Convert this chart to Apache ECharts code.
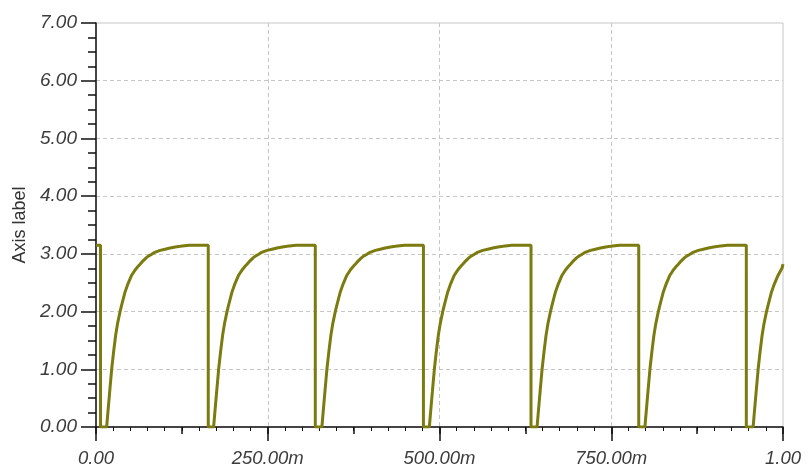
<!DOCTYPE html>
<html>
<head>
<meta charset="utf-8">
<script src="https://cdn.jsdelivr.net/npm/echarts@6/dist/echarts.min.js"></script>
<style>
  html, body { margin: 0; padding: 0; background: #ffffff; }
  #chart { width: 812px; height: 468px; }
</style>
</head>
<body>
<div id="chart"></div>
<script>
// Sampled trace: time in seconds, output level (one charge cycle per line)
const timeS = [
  0.0000, 0.0066, 0.0066,
  0.0155, 0.0170, 0.0185, 0.0200, 0.0228, 0.0257, 0.0286, 0.0315, 0.0350, 0.0375, 0.0423, 0.0465, 0.0519, 0.0575, 0.0610, 0.0641, 0.0670, 0.0695, 0.0730, 0.0762, 0.0805, 0.0845, 0.0885, 0.0933, 0.1005, 0.1078, 0.1155, 0.1224, 0.1355, 0.1634, 0.1634,
  0.1712, 0.1727, 0.1742, 0.1757, 0.1785, 0.1814, 0.1843, 0.1872, 0.1907, 0.1932, 0.1980, 0.2022, 0.2076, 0.2132, 0.2167, 0.2198, 0.2227, 0.2252, 0.2287, 0.2319, 0.2362, 0.2402, 0.2442, 0.2490, 0.2562, 0.2635, 0.2712, 0.2781, 0.2912, 0.3192, 0.3192,
  0.3288, 0.3303, 0.3318, 0.3333, 0.3361, 0.3390, 0.3419, 0.3448, 0.3483, 0.3508, 0.3556, 0.3598, 0.3652, 0.3708, 0.3743, 0.3774, 0.3803, 0.3828, 0.3863, 0.3895, 0.3938, 0.3978, 0.4018, 0.4066, 0.4138, 0.4211, 0.4288, 0.4357, 0.4488, 0.4766, 0.4766,
  0.4852, 0.4867, 0.4882, 0.4897, 0.4925, 0.4954, 0.4983, 0.5012, 0.5047, 0.5072, 0.5120, 0.5162, 0.5216, 0.5272, 0.5307, 0.5338, 0.5367, 0.5392, 0.5427, 0.5459, 0.5502, 0.5542, 0.5582, 0.5630, 0.5702, 0.5775, 0.5852, 0.5921, 0.6052, 0.6332, 0.6332,
  0.6420, 0.6435, 0.6450, 0.6465, 0.6493, 0.6522, 0.6551, 0.6580, 0.6615, 0.6640, 0.6688, 0.6730, 0.6784, 0.6840, 0.6875, 0.6906, 0.6935, 0.6960, 0.6995, 0.7027, 0.7070, 0.7110, 0.7150, 0.7198, 0.7270, 0.7343, 0.7420, 0.7489, 0.7620, 0.7900, 0.7900,
  0.7990, 0.8005, 0.8020, 0.8035, 0.8063, 0.8092, 0.8121, 0.8150, 0.8185, 0.8210, 0.8258, 0.8300, 0.8354, 0.8410, 0.8445, 0.8476, 0.8505, 0.8530, 0.8565, 0.8597, 0.8640, 0.8680, 0.8720, 0.8768, 0.8840, 0.8913, 0.8990, 0.9059, 0.9190, 0.9466, 0.9466,
  0.9565, 0.9580, 0.9595, 0.9610, 0.9638, 0.9667, 0.9696, 0.9725, 0.9760, 0.9785, 0.9833, 0.9875, 0.9929, 0.9985, 1.0000
];
const outputV = [
  3.15, 3.15, 0.00,
  0.00, 0.21, 0.42, 0.62, 1.00, 1.31, 1.59, 1.80, 2.00, 2.12, 2.34, 2.48, 2.63, 2.73, 2.78, 2.82, 2.86, 2.89, 2.93, 2.96, 2.99, 3.02, 3.04, 3.06, 3.08, 3.10, 3.12, 3.13, 3.15, 3.15, 0.00,
  0.00, 0.21, 0.42, 0.62, 1.00, 1.31, 1.59, 1.80, 2.00, 2.12, 2.34, 2.48, 2.63, 2.73, 2.78, 2.82, 2.86, 2.89, 2.93, 2.96, 2.99, 3.02, 3.04, 3.06, 3.08, 3.10, 3.12, 3.13, 3.15, 3.15, 0.00,
  0.00, 0.21, 0.42, 0.62, 1.00, 1.31, 1.59, 1.80, 2.00, 2.12, 2.34, 2.48, 2.63, 2.73, 2.78, 2.82, 2.86, 2.89, 2.93, 2.96, 2.99, 3.02, 3.04, 3.06, 3.08, 3.10, 3.12, 3.13, 3.15, 3.15, 0.00,
  0.00, 0.21, 0.42, 0.62, 1.00, 1.31, 1.59, 1.80, 2.00, 2.12, 2.34, 2.48, 2.63, 2.73, 2.78, 2.82, 2.86, 2.89, 2.93, 2.96, 2.99, 3.02, 3.04, 3.06, 3.08, 3.10, 3.12, 3.13, 3.15, 3.15, 0.00,
  0.00, 0.21, 0.42, 0.62, 1.00, 1.31, 1.59, 1.80, 2.00, 2.12, 2.34, 2.48, 2.63, 2.73, 2.78, 2.82, 2.86, 2.89, 2.93, 2.96, 2.99, 3.02, 3.04, 3.06, 3.08, 3.10, 3.12, 3.13, 3.15, 3.15, 0.00,
  0.00, 0.21, 0.42, 0.62, 1.00, 1.31, 1.59, 1.80, 2.00, 2.12, 2.34, 2.48, 2.63, 2.73, 2.78, 2.82, 2.86, 2.89, 2.93, 2.96, 2.99, 3.02, 3.04, 3.06, 3.08, 3.10, 3.12, 3.13, 3.15, 3.15, 0.00,
  0.00, 0.21, 0.42, 0.62, 1.00, 1.31, 1.59, 1.80, 2.00, 2.12, 2.34, 2.48, 2.63, 2.75, 2.82
];
const yAxisName = 'Axis label';

const FONT = '"Liberation Sans", Arial, sans-serif';
const GRID_COLOR = '#c6c6c6';
const AXIS_COLOR = '#111111';
const LABEL_COLOR = '#3c3c3c';

function timeLabel(v) {
  if (Math.abs(v) < 1e-9) return '0.00';
  if (v < 0.999) return (v * 1000).toFixed(2) + 'm';
  return v.toFixed(2);
}

const chart = echarts.init(document.getElementById('chart'), null, { renderer: 'canvas' });

chart.setOption({
  animation: false,
  backgroundColor: '#ffffff',
  grid: {
    left: 96, right: 29, top: 23, bottom: 41,
    show: true, borderColor: GRID_COLOR, borderWidth: 1, backgroundColor: '#ffffff'
  },
  xAxis: [
    {
      type: 'value', min: 0, max: 1, interval: 0.25, position: 'bottom',
      axisLine: { show: true, onZero: false, lineStyle: { color: AXIS_COLOR, width: 1.5 } },
      axisTick: { show: true, inside: false, length: 14, lineStyle: { color: AXIS_COLOR, width: 1.5 } },
      minorTick: { show: true, splitNumber: 10, length: 4, lineStyle: { color: AXIS_COLOR, width: 1 } },
      axisLabel: {
        margin: 22, color: LABEL_COLOR, fontFamily: FONT, fontStyle: 'italic', fontSize: 18.5,
        formatter: timeLabel
      },
      splitLine: { show: true, showMinLine: false, showMaxLine: false,
        lineStyle: { color: GRID_COLOR, type: [4, 3], width: 1 } }
    },
    {
      type: 'value', min: 0, max: 1, interval: 0.125, position: 'bottom',
      axisLine: { show: false, onZero: false },
      axisTick: { show: true, inside: false, length: 7, lineStyle: { color: AXIS_COLOR, width: 1.5 } },
      axisLabel: { show: false },
      splitLine: { show: false }
    }
  ],
  yAxis: {
    type: 'value', min: 0, max: 7, interval: 1,
    name: yAxisName, nameLocation: 'middle', nameGap: 66, nameRotate: 90,
    nameTextStyle: { color: '#333333', fontFamily: FONT, fontSize: 18 },
    axisLine: { show: true, onZero: false, lineStyle: { color: AXIS_COLOR, width: 1.5 } },
    axisTick: { show: true, inside: false, length: 15, lineStyle: { color: AXIS_COLOR, width: 1.5 } },
    minorTick: { show: true, splitNumber: 4, length: 8, lineStyle: { color: AXIS_COLOR, width: 1.5 } },
    axisLabel: {
      margin: 19, color: LABEL_COLOR, fontFamily: FONT, fontStyle: 'italic', fontSize: 19,
      formatter: v => v.toFixed(2)
    },
    splitLine: { show: true, showMinLine: false, showMaxLine: false,
      lineStyle: { color: GRID_COLOR, type: [4, 3], width: 1 } }
  },
  series: [{
    type: 'line',
    xAxisIndex: 0,
    showSymbol: false,
    clip: true,
    lineStyle: { color: '#7b7b10', width: 3 },
    data: timeS.map((t, i) => [t, outputV[i]])
  }]
});
</script>
</body>
</html>
